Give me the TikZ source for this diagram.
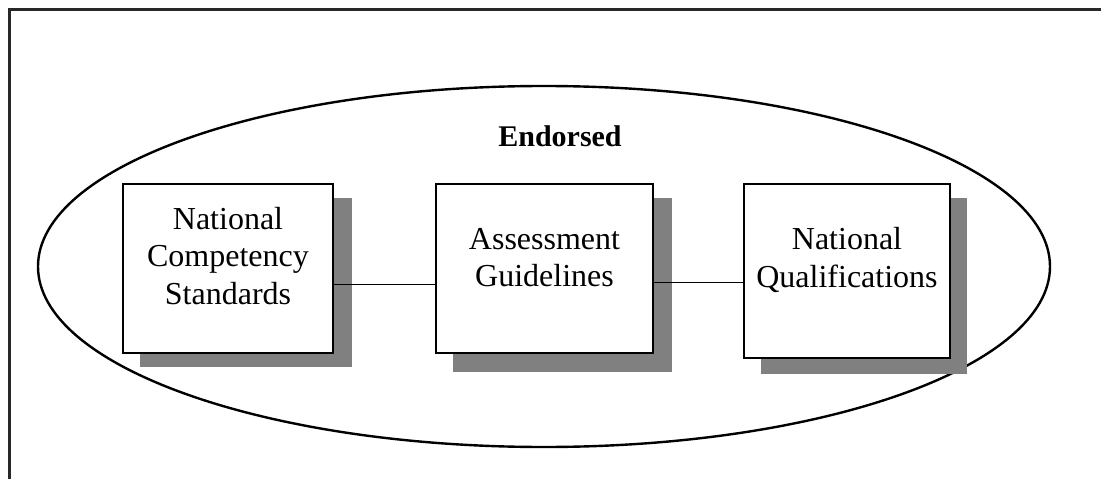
\documentclass[tikz,border=0pt]{standalone}
\usepackage{fontspec}
\setmainfont{Liberation Serif}
\usetikzlibrary{shapes.geometric}
\definecolor{shadowgray}{RGB}{128,128,128}
\definecolor{framegray}{RGB}{40,40,40}
\tikzset{
  x=1pt, y=1pt,
  unitbox/.style={draw=black, line width=2.2pt, fill=white, inner sep=0pt},
  unitshadow/.style={fill=shadowgray, draw=none},
  boxtext/.style={align=center, inner sep=0pt, font=\fontsize{32}{37.5}\selectfont},
  link/.style={draw=black, line width=1.6pt},
}
\begin{document}
\begin{tikzpicture}
  \useasboundingbox (0,0) rectangle (1101,-479);
  % outer frame (top and left edges)
  \draw[framegray, line width=3pt] (9.5,-479) -- (9.5,-9.5) -- (1101,-9.5);

  % endorsed zone
  \node[ellipse, draw=black, line width=2.4pt, minimum width=1012, minimum height=361, inner sep=0pt]
    (zone) at (544,-266.5) {};
  \node[anchor=base, font=\fontsize{30}{36}\selectfont\bfseries] (endorsed) at (560,-146) {Endorsed};

  % drop shadows
  \fill[unitshadow] (140,-198) rectangle (352,-367);
  \fill[unitshadow] (453,-198) rectangle (672,-372);
  \fill[unitshadow] (761,-198) rectangle (967,-374);

  % boxes
  \node[unitbox, minimum width=210, minimum height=169] (b1) at (228,-268.5) {};
  \node[unitbox, minimum width=217, minimum height=169] (b2) at (544.5,-268.5) {};
  \node[unitbox, minimum width=206, minimum height=174] (b3) at (847,-271) {};

  \node[boxtext] (t1) at (228,-256) {National\\Competency\\Standards};
  \node[boxtext] (t2) at (544.5,-257.5) {Assessment\\Guidelines};
  \node[boxtext] (t3) at (847,-260) {National\\Qualifications};

  % connectors
  \draw[link] ([yshift=-16]b1.east) -- ([yshift=-16]b1.east -| b2.west);
  \draw[link] ([yshift=-14]b2.east) -- ([yshift=-14]b2.east -| b3.west);
\end{tikzpicture}
\end{document}
